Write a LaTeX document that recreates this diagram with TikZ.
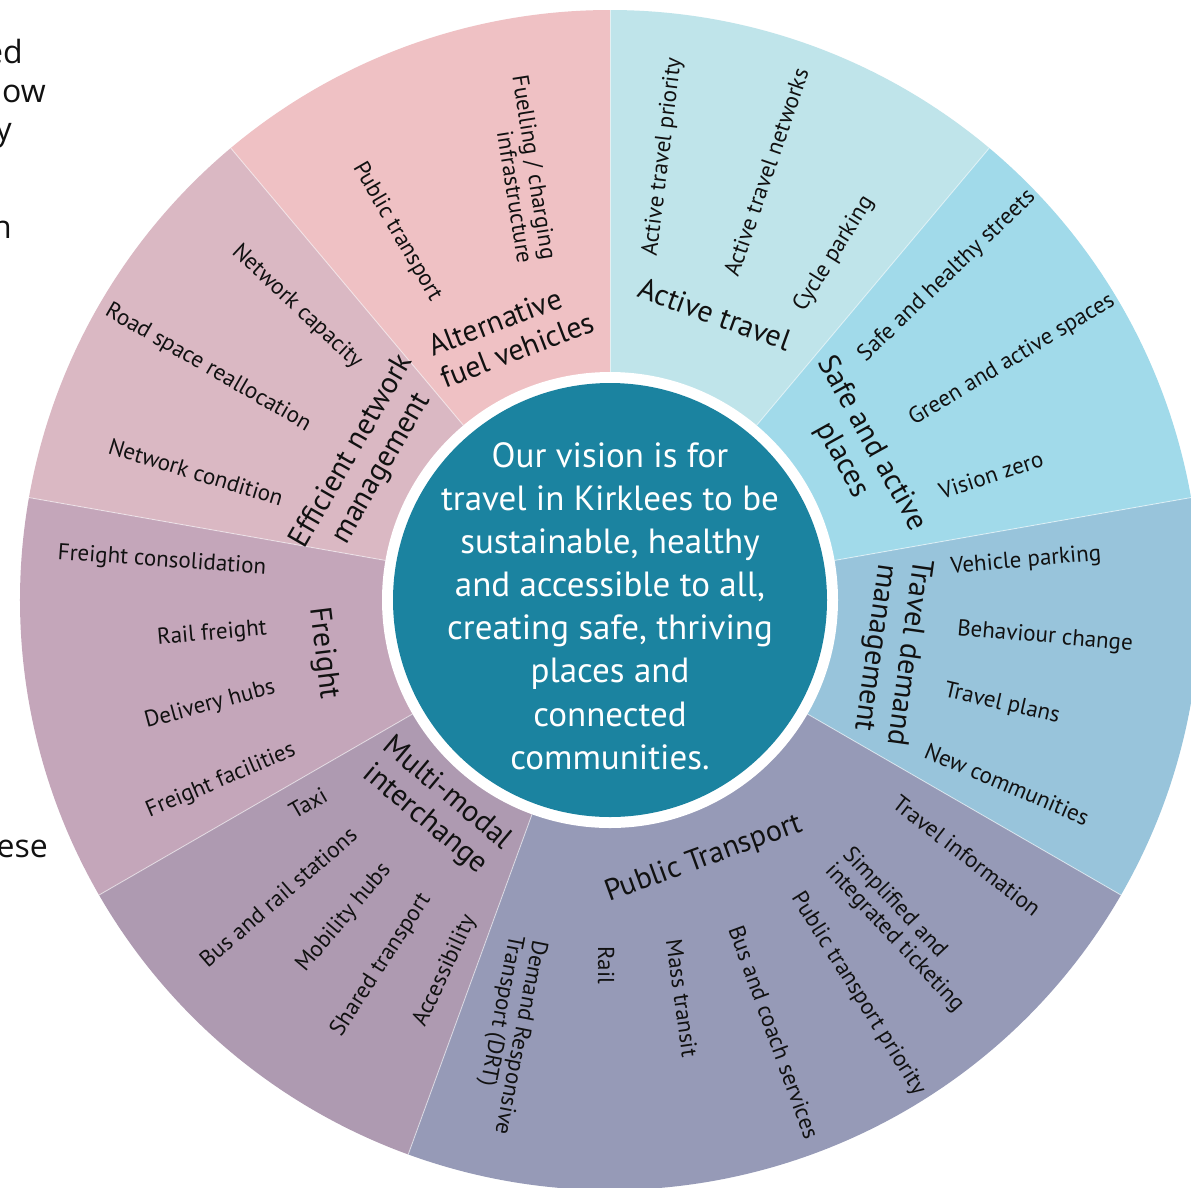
\documentclass[tikz,border=0pt]{standalone}
\usepackage{fontspec}
\setmainfont{PT Sans}
\newfontfamily\leftfont{Open Sans}
\definecolor{cAlt}{HTML}{EFC1C4}
\definecolor{cAct}{HTML}{BFE4EA}
\definecolor{cSafe}{HTML}{A1DAEA}
\definecolor{cTdm}{HTML}{98C4DB}
\definecolor{cPub}{HTML}{969AB7}
\definecolor{cMulti}{HTML}{AE9AB1}
\definecolor{cFreight}{HTML}{C4A6BA}
\definecolor{cEff}{HTML}{DAB8C3}
\definecolor{cCore}{HTML}{1B83A0}
\definecolor{txt}{HTML}{111111}
\begin{document}
\begin{tikzpicture}[x=1pt,y=1pt,
  item/.style={font=\fontsize{23}{24}\selectfont, text=txt, inner sep=0pt},
  cat/.style={font=\fontsize{30}{34}\selectfont, text=txt, inner sep=0pt},
  frag/.style={font=\leftfont\fontsize{32}{38}\selectfont, text=txt, anchor=base east, inner sep=0pt},
  divider/.style={draw=white, draw opacity=0.55, line width=0.9pt}]
\useasboundingbox (0,0) rectangle (1191,-1187);
\clip (0,0) rectangle (1191,-1187);
\fill[white] (0,0) rectangle (1191,-1187);
% wheel
\begin{scope}[shift={(610,-600)}]
  \foreach \a/\b/\c in {50/90/cAct, 90/130/cAlt, 130/170/cEff, 170/210/cFreight,
                         210/250/cMulti, 250/330/cPub, 330/370/cTdm, 10/50/cSafe}
    \fill[\c] (0,0) -- (\a:590) arc[start angle=\a, end angle=\b, radius=590] -- cycle;
  \foreach \a in {50,90,130,170,210,250,330,10}
    \draw[divider] (\a:228) -- (\a:590);
  \fill[white] (0,0) circle[radius=228];
  \fill[cCore] (0,0) circle[radius=217];
\end{scope}
% centre
\node[align=center, text=white, inner sep=0pt, font=\fontsize{35}{43.1}\selectfont] (vision) at (610,-606)
  {Our vision is for\\travel in Kirklees to be\\sustainable, healthy\\and accessible to all,\\creating safe, thriving\\places and\\connected\\communities.};
% Alternative fuel vehicles
\node[cat, align=left, rotate=21] (catAlt) at (511,-334) {Alternative\\fuel vehicles};
\node[item, rotate=-60] (alt1) at (397,-232) {Public transport};
\node[item, align=right, rotate=-81] (alt2) at (523,-169) {Fuelling / charging\\infrastructure};
% Active travel
\node[cat, rotate=-20] (catAct) at (715,-314) {Active travel};
\node[item, rotate=83] (act1) at (663,-157) {Active travel priority};
\node[item, rotate=71] (act2) at (766,-172) {Active travel networks};
\node[item, rotate=58] (act3) at (834,-254) {Cycle parking};
% Safe and active places
\node[cat, align=center, rotate=-61] (catSafe) at (857,-452) {Safe and active\\places};
\node[item, rotate=44] (safe1) at (947,-276) {Safe and healthy streets};
\node[item, rotate=31] (safe2) at (1012,-360) {Green and active spaces};
\node[item, rotate=18] (safe3) at (991,-475) {Vision zero};
% Travel demand management
\node[cat, align=center, rotate=-98] (catTdm) at (891,-650) {Travel demand\\management};
\node[item, rotate=5] (tdm1) at (1026,-561) {Vehicle parking};
\node[item, rotate=-5] (tdm2) at (1045,-637) {Behaviour change};
\node[item, rotate=-13] (tdm3) at (1002,-704) {Travel plans};
\node[item, rotate=-23] (tdm4) at (1007,-784) {New communities};
% Public Transport
\node[cat, rotate=20] (catPub) at (704,-859) {Public Transport};
\node[item, rotate=-38] (pub1) at (967,-856) {Travel information};
\node[item, align=left, rotate=-47] (pub2) at (903,-930) {Simplified and\\integrated ticketing};
\node[item, rotate=-58] (pub3) at (858,-994) {Public transport priority};
\node[item, rotate=-70] (pub4) at (774,-1032) {Bus and coach services};
\node[item, rotate=-82] (pub5) at (682,-998) {Mass transit};
\node[item, rotate=-90] (pub6) at (606,-965) {Rail};
\node[item, align=left, rotate=-101] (pub7) at (508,-1035) {Demand Responsive\\Transport (DRT)};
% Multi-modal interchange
\node[cat, align=center, rotate=-40] (catMulti) at (436,-807) {Multi-modal\\interchange};
\node[item, rotate=30] (mm1) at (308,-803) {Taxi};
\node[item, rotate=41] (mm2) at (278,-897) {Bus and rail stations};
\node[item, rotate=50] (mm3) at (344,-918) {Mobility hubs};
\node[item, rotate=57] (mm4) at (381,-965) {Shared transport};
\node[item, rotate=65] (mm5) at (445,-971) {Accessibility};
% Freight
\node[cat, rotate=-83] (catFreight) at (323,-653) {Freight};
\node[item, rotate=-4] (fr1) at (162,-561) {Freight consolidation};
\node[item, rotate=5] (fr2) at (212,-634) {Rail freight};
\node[item, rotate=15] (fr3) at (210,-705) {Delivery hubs};
\node[item, rotate=23] (fr4) at (221,-781) {Freight facilities};
% Efficient network management
\node[cat, align=center, rotate=60] (catEff) at (367,-460) {Efficient network\\management};
\node[item, rotate=-43] (eff1) at (297,-307) {Network capacity};
\node[item, rotate=-30] (eff2) at (208,-368) {Road space reallocation};
\node[item, rotate=-17] (eff3) at (196,-472) {Network condition};
% cut-off page text at the left edge
\node[frag] (f1) at (23,-63) {ed};
\node[frag] (f2) at (46,-102) {how};
\node[frag] (f3) at (12,-140) {y};
\node[frag] (f4) at (12,-238) {n};
\node[frag] (f5) at (48,-857) {hese};
\end{tikzpicture}
\end{document}
